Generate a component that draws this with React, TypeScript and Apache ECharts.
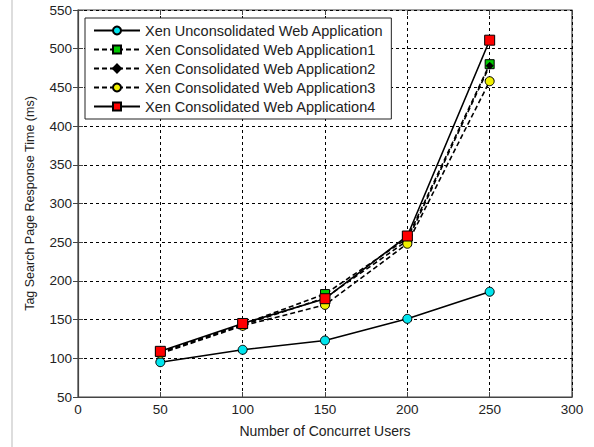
import React, { useEffect, useRef } from "react";
import * as echarts from "echarts";

const users = [50, 100, 150, 200, 250];
const unconsolidated = [95, 111, 123, 151, 186];
const consolidated1 = [108, 144, 183, 255, 480];
const consolidated2 = [107, 143, 178, 252, 478];
const consolidated3 = [106, 142, 169, 248, 458];
const consolidated4 = [109, 145, 177, 258, 511];
const seriesNames = [
  "Xen Unconsolidated Web Application",
  "Xen Consolidated Web Application1",
  "Xen Consolidated Web Application2",
  "Xen Consolidated Web Application3",
  "Xen Consolidated Web Application4",
];

const pair = (ys: number[]) => users.map((u, i) => [u, ys[i]]);

export default function App() {
  const ref = useRef<HTMLDivElement>(null);
  useEffect(() => {
    document.body.style.margin = "0";
    const chart = echarts.init(ref.current!, null, { renderer: "svg" });
    const font = "Liberation Sans, Arial, sans-serif";
    const grid = { left: 78, right: 22, top: 10, bottom: 50 };
    const splitStyle = { color: "#000", width: 1, type: [3, 3] as any };
    const mk = (
      name: string,
      data: number[],
      symbol: string,
      color: string,
      dashed: boolean,
      size: number
    ) => ({
      type: "line",
      name,
      data: pair(data),
      symbol,
      symbolSize: size,
      showSymbol: true,
      lineStyle: { color: "#000", width: 1.6, type: dashed ? [5, 3] : "solid" },
      itemStyle: { color, borderColor: "#000", borderWidth: 1 },
      emphasis: { disabled: true },
      z: 3,
    });
    chart.setOption({
      animation: false,
      backgroundColor: "#fff",
      textStyle: { fontFamily: font },
      grid: { ...grid, show: true, borderColor: "#444", borderWidth: 1.2, backgroundColor: "transparent" },
      legend: {
        orient: "vertical",
        left: 85,
        top: 18,
        padding: [5, 8, 5, 8],
        itemGap: 4,
        itemWidth: 46,
        itemHeight: 10,
        backgroundColor: "#fff",
        borderColor: "#222",
        borderWidth: 1,
        borderRadius: 0,
        textStyle: { fontFamily: font, fontSize: 14.5, color: "#222" },
        data: seriesNames,
      },
      xAxis: [
        {
          type: "value",
          min: 0,
          max: 300,
          interval: 50,
          name: "Number of Concurret Users",
          nameLocation: "middle",
          nameGap: 27,
          nameTextStyle: { fontFamily: font, fontSize: 14, color: "#222" },
          axisLine: { show: true, lineStyle: { color: "#444", width: 1.2 } },
          axisTick: { show: true, inside: true, length: 5, lineStyle: { color: "#444" } },
          axisLabel: { fontFamily: font, fontSize: 13.5, color: "#222", margin: 5 },
          splitLine: { show: true, lineStyle: splitStyle },
        },
        {
          type: "value",
          position: "top",
          min: 0,
          max: 300,
          interval: 50,
          axisLine: { show: false },
          axisTick: { show: true, inside: true, length: 5, lineStyle: { color: "#444" } },
          axisLabel: { show: false },
          splitLine: { show: false },
        },
      ],
      yAxis: [
        {
          type: "value",
          min: 50,
          max: 550,
          interval: 50,
          name: "Tag Search Page Response Time (ms)",
          nameLocation: "middle",
          nameGap: 42,
          nameTextStyle: { fontFamily: font, fontSize: 12.5, color: "#222" },
          axisLine: { show: true, lineStyle: { color: "#444", width: 1.2 } },
          axisTick: { show: true, inside: true, length: 5, lineStyle: { color: "#444" } },
          axisLabel: { fontFamily: font, fontSize: 13.5, color: "#222", margin: 6 },
          splitLine: { show: true, lineStyle: splitStyle },
        },
        {
          type: "value",
          position: "right",
          min: 50,
          max: 550,
          interval: 50,
          axisLine: { show: false },
          axisTick: { show: true, inside: true, length: 5, lineStyle: { color: "#444" } },
          axisLabel: { show: false },
          splitLine: { show: false },
        },
      ],
      graphic: [
        {
          type: "line",
          shape: { x1: 12, y1: 0, x2: 12, y2: 447 },
          style: { stroke: "#bbb", lineWidth: 1 },
        },
      ],
      series: [
        mk(seriesNames[0], unconsolidated, "circle", "#00e5ee", false, 9),
        mk(seriesNames[1], consolidated1, "rect", "#00c800", true, 9),
        mk(seriesNames[2], consolidated2, "diamond", "#000", true, 7),
        mk(seriesNames[3], consolidated3, "circle", "#f0f000", true, 9),
        mk(seriesNames[4], consolidated4, "rect", "#ff0000", false, 10),
      ],
    });
    return () => chart.dispose();
  }, []);
  return <div ref={ref} style={{ width: 594, height: 447 }} />;
}
